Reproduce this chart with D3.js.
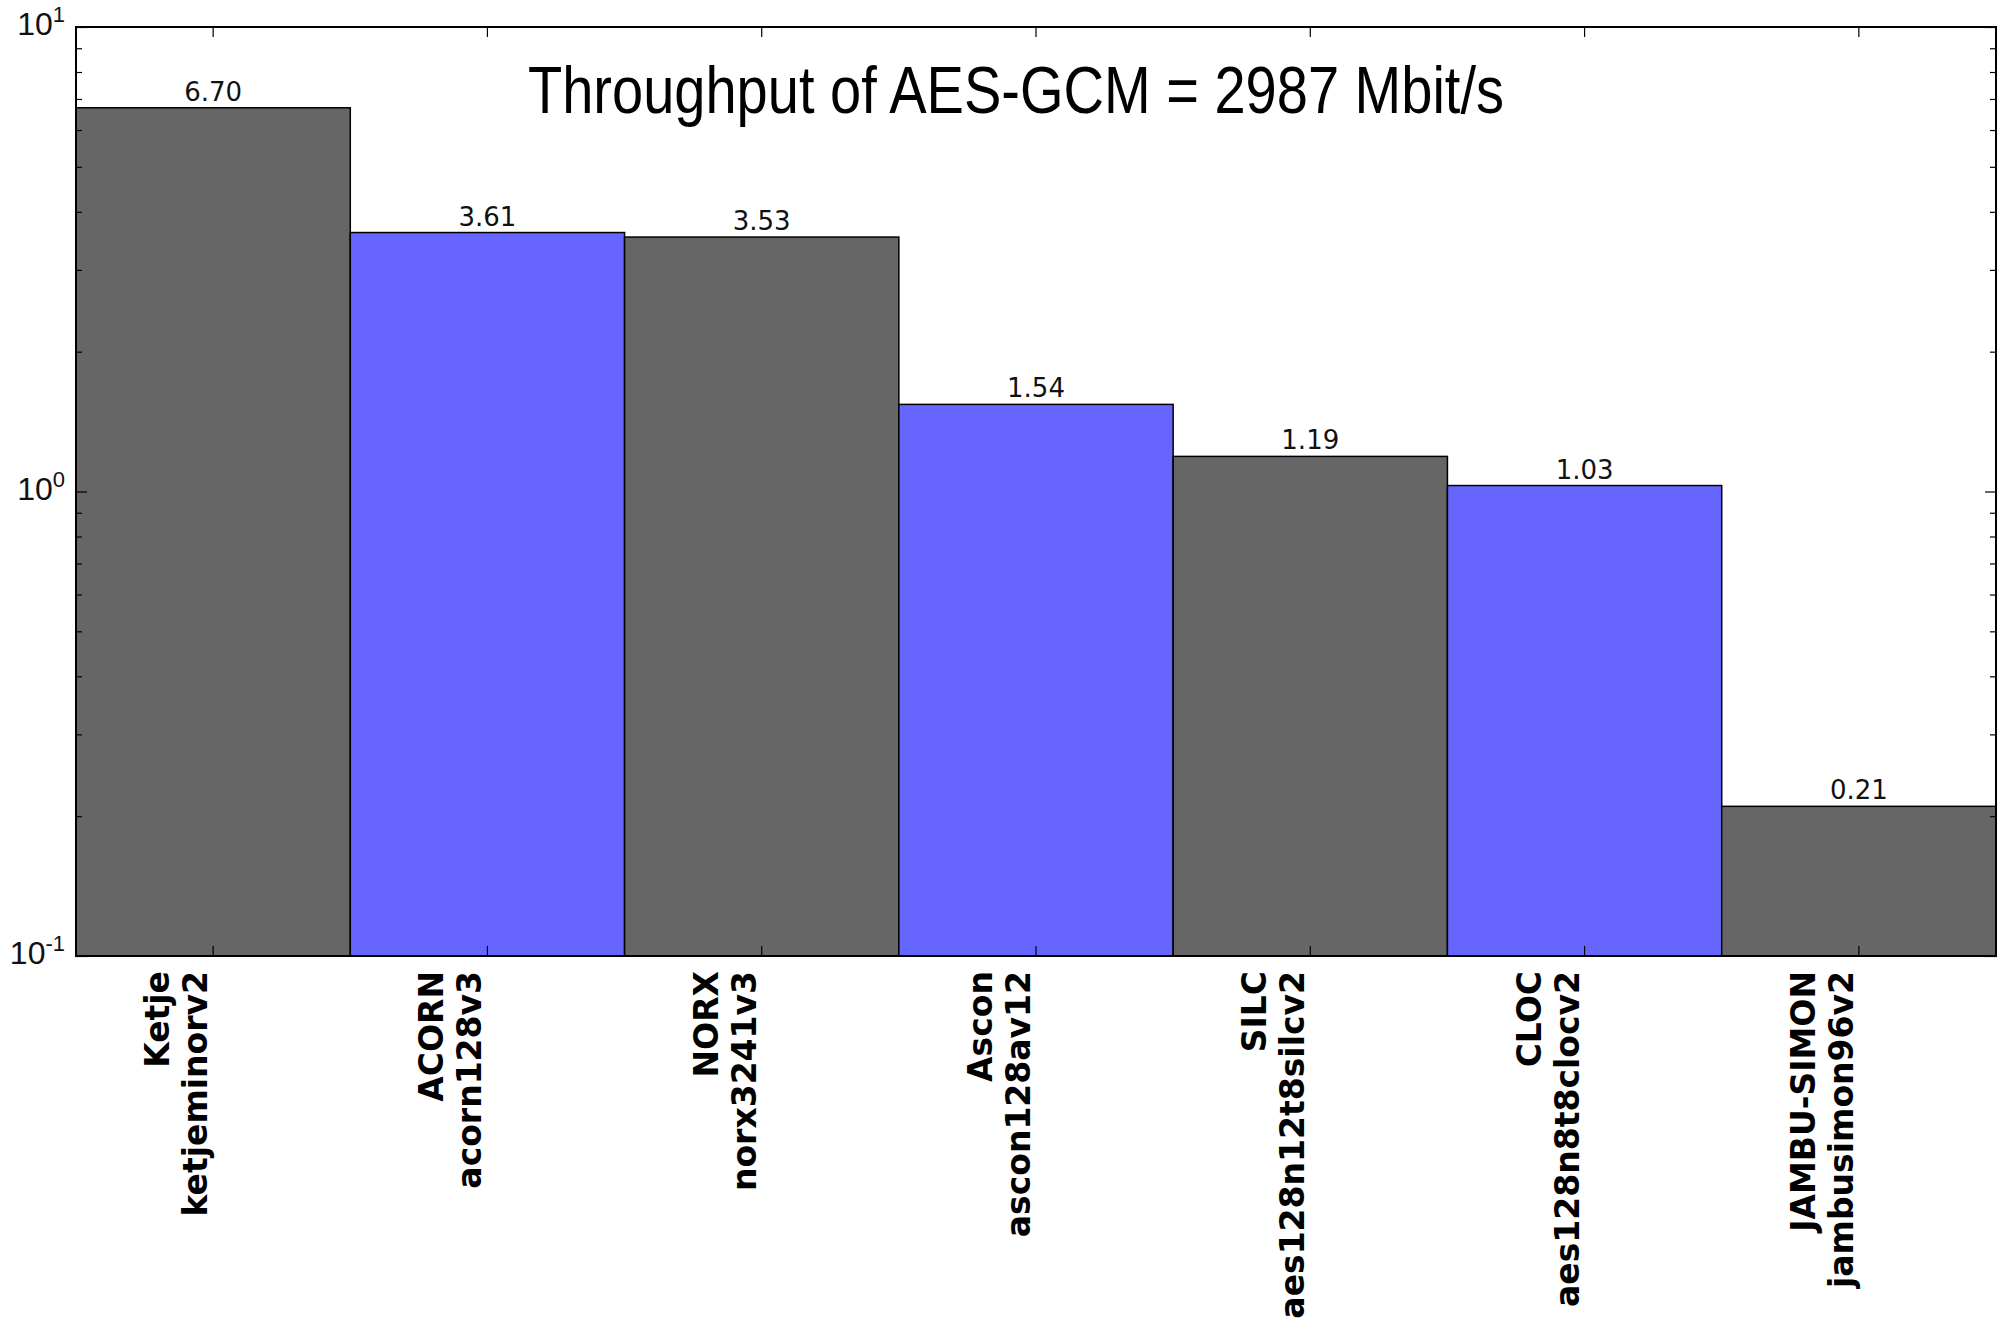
<!DOCTYPE html>
<html>
<head>
<meta charset="utf-8">
<script src="https://cdn.jsdelivr.net/npm/d3@7"></script>
<style>
  body { margin: 0; background: #fff; }
  svg { display: block; }
</style>
</head>
<body>
<svg width="2003" height="1318"></svg>
<script>
// data
const families = ["Ketje", "ACORN", "NORX", "Ascon", "SILC", "CLOC", "JAMBU-SIMON"];
const implementations = ["ketjeminorv2", "acorn128v3", "norx3241v3", "ascon128av12", "aes128n12t8silcv2", "aes128n8t8clocv2", "jambusimon96v2"];
const ratios = [6.70, 3.61, 3.53, 1.54, 1.19, 1.03, 0.21];
const majorTicks = [0.1, 1, 10];
const tickExponents = ["-1", "0", "1"];
const minorTicks = [0.2, 0.3, 0.4, 0.5, 0.6, 0.7, 0.8, 0.9, 2, 3, 4, 5, 6, 7, 8, 9];
const title = "Throughput of AES-GCM = 2987 Mbit/s";

const svg = d3.select("svg");
const margin = {left: 76, right: 7, top: 27, bottom: 362};
const width = 2003 - margin.left - margin.right;
const height = 1318 - margin.top - margin.bottom;

const x = d3.scaleBand().domain(families).range([0, width]).padding(0);
const y = d3.scaleLog().domain([0.1, 10]).range([height, 0]);
const color = i => i % 2 === 0 ? "#666666" : "#6666ff";

const g = svg.append("g").attr("transform", `translate(${margin.left},${margin.top})`);

// bars
g.selectAll(".bar")
  .data(ratios)
  .enter()
  .append("rect")
    .attr("class", "bar")
    .attr("x", (d, i) => x(families[i]))
    .attr("y", d => y(d))
    .attr("width", x.bandwidth())
    .attr("height", d => height - y(d))
    .attr("fill", (d, i) => color(i))
    .attr("stroke", "#000")
    .attr("stroke-width", 1.5);

// value labels
g.selectAll(".value")
  .data(ratios)
  .enter()
  .append("text")
    .attr("class", "value")
    .attr("x", (d, i) => x(families[i]) + x.bandwidth() / 2)
    .attr("y", d => y(d) - 7)
    .attr("text-anchor", "middle")
    .attr("font-family", "DejaVu Sans")
    .attr("font-size", 26)
    .attr("fill", "#111")
    .text(d => d.toFixed(2));

// ticks, all pointing inward
function styleAxis(sel) {
  sel.select(".domain").remove();
  sel.selectAll(".tick line").attr("stroke", "#000").attr("stroke-width", 1.2);
  sel.selectAll(".tick text").remove();
}
g.append("g").attr("transform", `translate(0,${height})`)
  .call(d3.axisBottom(x).tickSize(-10)).call(styleAxis);
g.append("g")
  .call(d3.axisTop(x).tickSize(-10)).call(styleAxis);
g.append("g")
  .call(d3.axisLeft(y).tickValues(majorTicks).tickSize(-11)).call(styleAxis);
g.append("g")
  .call(d3.axisLeft(y).tickValues(minorTicks).tickSize(-6)).call(styleAxis);
g.append("g").attr("transform", `translate(${width},0)`)
  .call(d3.axisRight(y).tickValues(majorTicks).tickSize(-11)).call(styleAxis);
g.append("g").attr("transform", `translate(${width},0)`)
  .call(d3.axisRight(y).tickValues(minorTicks).tickSize(-6)).call(styleAxis);

// frame
g.append("rect")
  .attr("width", width)
  .attr("height", height)
  .attr("fill", "none")
  .attr("stroke", "#000")
  .attr("stroke-width", 2);

// y tick labels 10^n
const yLabels = g.selectAll(".ylab")
  .data(majorTicks)
  .enter()
  .append("text")
    .attr("class", "ylab")
    .attr("x", -11)
    .attr("y", d => y(d) + 8)
    .attr("text-anchor", "end")
    .attr("font-family", "Liberation Sans Narrow, Liberation Sans, sans-serif")
    .attr("font-size", 32)
    .attr("fill", "#111");
yLabels.append("tspan").text("10");
yLabels.append("tspan")
  .attr("font-size", 22)
  .attr("dy", -13)
  .text((d, i) => tickExponents[i]);

// category labels, two lines, rotated
const cat = g.selectAll(".cat")
  .data(families)
  .enter()
  .append("g")
    .attr("class", "cat")
    .attr("transform", d => `translate(${x(d) + x.bandwidth() / 2},${height + 15}) rotate(-90)`)
    .attr("font-family", "DejaVu Sans")
    .attr("font-weight", "bold")
    .attr("font-size", 33)
    .attr("text-anchor", "end");
cat.append("text").attr("y", -44).text(d => d);
cat.append("text").attr("y", -6).text((d, i) => implementations[i]);

// title inside the plot
g.append("text")
  .attr("x", 1016 - margin.left)
  .attr("y", 113 - margin.top)
  .attr("text-anchor", "middle")
  .attr("font-family", "Liberation Sans Narrow, Liberation Sans, sans-serif")
  .attr("font-size", 66)
  .attr("textLength", 976)
  .attr("lengthAdjust", "spacingAndGlyphs")
  .text(title);
</script>
</body>
</html>
